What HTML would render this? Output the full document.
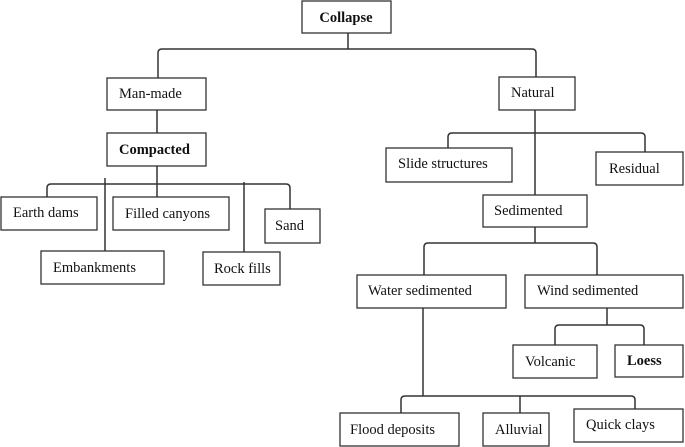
<!DOCTYPE html>
<html><head><meta charset="utf-8"><style>
html,body{margin:0;padding:0;background:#fff;}
svg{display:block;}
text{font-family:"Liberation Serif",serif;font-size:14.5px;fill:#111;}
.b{font-weight:bold;}
rect{fill:#fff;stroke:#333;stroke-width:1.3;}
path,line{stroke:#333;stroke-width:1.5;fill:none;}
</style></head><body>
<svg width="685" height="447" viewBox="0 0 685 447">
<line x1="348" y1="33" x2="348" y2="49"/>
<path d="M158 78 V53 Q158 49 162 49 H532 Q536 49 536 53 V77"/>
<line x1="157" y1="110" x2="157" y2="133"/>
<line x1="157" y1="166" x2="157" y2="197"/>
<path d="M47 197 V188 Q47 184 51 184 H286 Q290 184 290 188 V209"/>
<line x1="105" y1="178" x2="105" y2="251"/>
<line x1="244" y1="182" x2="244" y2="252"/>
<line x1="535" y1="110" x2="535" y2="195"/>
<path d="M448 148 V137 Q448 133 452 133 H641 Q645 133 645 137 V152"/>
<line x1="535" y1="227" x2="535" y2="243"/>
<path d="M424 275 V247 Q424 243 428 243 H593 Q597 243 597 247 V275"/>
<line x1="607" y1="308" x2="607" y2="325"/>
<path d="M555 345 V329 Q555 325 559 325 H640 Q644 325 644 329 V345"/>
<line x1="423" y1="308" x2="423" y2="396"/>
<path d="M401 413 V400 Q401 396 405 396 H631 Q635 396 635 400 V409"/>
<line x1="520" y1="396" x2="520" y2="413"/>
<rect x="302" y="1" width="89" height="32"/><text class="b" x="346" y="22" text-anchor="middle">Collapse</text>
<rect x="107" y="78" width="99" height="32"/><text x="119" y="98">Man-made</text>
<rect x="107" y="133" width="99" height="33"/><text class="b" x="119" y="154">Compacted</text>
<rect x="1" y="197" width="96" height="33"/><text x="13" y="217">Earth dams</text>
<rect x="113" y="197" width="116" height="33"/><text x="125" y="218">Filled canyons</text>
<rect x="265" y="209" width="55" height="34"/><text x="275" y="230">Sand</text>
<rect x="41" y="251" width="123" height="33"/><text x="53" y="272">Embankments</text>
<rect x="203" y="252" width="77" height="33"/><text x="214" y="273">Rock fills</text>
<rect x="499" y="77" width="76" height="33"/><text x="511" y="97">Natural</text>
<rect x="386" y="148" width="126" height="34"/><text x="398" y="168">Slide structures</text>
<rect x="596" y="152" width="87" height="33"/><text x="609" y="173">Residual</text>
<rect x="483" y="195" width="104" height="32"/><text x="494" y="215">Sedimented</text>
<rect x="357" y="275" width="149" height="33"/><text x="368" y="295">Water sedimented</text>
<rect x="525" y="275" width="158" height="33"/><text x="537" y="295">Wind sedimented</text>
<rect x="513" y="345" width="84" height="33"/><text x="525" y="366">Volcanic</text>
<rect x="615" y="345" width="68" height="32"/><text class="b" x="627" y="365">Loess</text>
<rect x="340" y="413" width="119" height="33"/><text x="350" y="434">Flood deposits</text>
<rect x="483" y="413" width="66" height="33"/><text x="495" y="434">Alluvial</text>
<rect x="574" y="409" width="109" height="33"/><text x="586" y="429">Quick clays</text>
</svg>
</body></html>
